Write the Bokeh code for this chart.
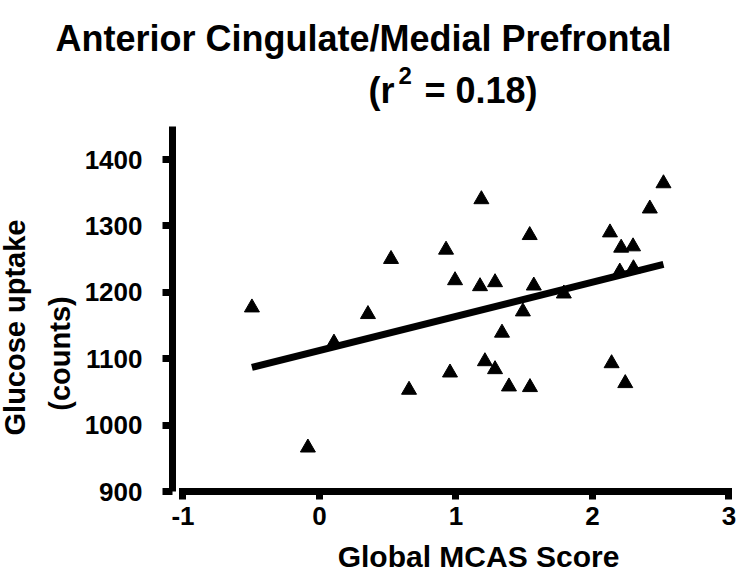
from bokeh.plotting import figure
from bokeh.models import Label, Range1d, FixedTicker
from bokeh.embed import file_html
from bokeh.resources import INLINE
import math

# ---- data ----
mcas_score = [-0.495, -0.085, 0.106, 0.355, 0.524, 0.656, 0.927, 0.956, 0.993, 1.176,
              1.186, 1.212, 1.286, 1.286, 1.337, 1.388, 1.490, 1.540, 1.542, 1.570,
              1.790, 2.128, 2.140, 2.200, 2.210, 2.240, 2.297, 2.300, 2.420, 2.520]
glucose_uptake = [1177, 966, 1124, 1167, 1250, 1053, 1264, 1079, 1218, 1209,
                  1340, 1096, 1215, 1084, 1139, 1058, 1171, 1286, 1057, 1210,
                  1198, 1290, 1093, 1231, 1267, 1063, 1269, 1236, 1326, 1364]
fit_x = [-0.495, 2.52]
fit_y = [1087, 1242]
x_ticks = [-1, 0, 1, 2, 3]
x_tick_labels = {-1: "-1", 0: "0", 1: "1", 2: "2", 3: "3"}
y_ticks = [900, 1000, 1100, 1200, 1300, 1400]

title_text = "Anterior Cingulate/Medial Prefrontal"
r2_open = "(r"
r2_sup = "2"
r2_rest = "= 0.18)"
x_label = "Global MCAS Score"
y_label_1 = "Glucose uptake"
y_label_2 = "(counts)"

FONT = "Liberation Sans"
W, H = 741, 574

# the plotting frame covers the whole canvas; axes are drawn at fixed places
p = figure(width=W, height=H, output_backend="svg", toolbar_location=None,
           title=None,
           x_range=Range1d(-2.337, 3.0916), y_range=Range1d(775.0, 1639.5),
           min_border=0, min_border_left=0, min_border_right=0,
           min_border_top=0, min_border_bottom=0,
           background_fill_color="white", border_fill_color="white")
p.outline_line_color = None
p.grid.visible = False

for ax in (p.xaxis[0], p.yaxis[0]):
    ax.axis_line_width = 7
    ax.axis_line_color = "black"
    ax.major_tick_line_width = 7
    ax.major_tick_line_color = "black"
    ax.minor_tick_line_color = None
    ax.major_tick_in = 0
    ax.major_label_text_font = FONT
    ax.major_label_text_font_style = "bold"
    ax.major_label_text_font_size = "26px"
    ax.major_label_text_color = "black"

xa = p.xaxis[0]
xa.fixed_location = 900.7
xa.ticker = FixedTicker(ticks=x_ticks)
xa.major_label_overrides = x_tick_labels
xa.bounds = (-1, 3)
xa.axis_line_cap = "square"
xa.major_tick_out = 8
xa.major_label_standoff = 8

ya = p.yaxis[0]
ya.fixed_location = -1.077
ya.ticker = FixedTicker(ticks=y_ticks)
ya.bounds = (900, 1450)
ya.axis_line_cap = "butt"
ya.major_tick_out = 10
ya.major_label_standoff = 20

p.line(fit_x, fit_y, line_width=7, line_color="black")
p.scatter(mcas_score, glucose_uptake, marker="triangle", size=15,
          fill_color="black", line_color="black")

def lab(x, y, text, size, align="left", angle=0.0):
    # screen units measured from the canvas left / bottom
    p.add_layout(Label(x=x, y=y, x_units="screen", y_units="screen", text=text,
                       text_font=FONT, text_font_style="bold", text_font_size=size,
                       text_color="black", text_align=align,
                       text_baseline="alphabetic", angle=angle))

lab(363, H - 38, title_text, "36px", "center")
lab(368, H - 90, r2_open, "36px", "left")
lab(398, H - 75, r2_sup, "24px", "left")
lab(537, H - 90, r2_rest, "36px", "right")
lab(478, H - 556, x_label, "30px", "center")
lab(14, H - 327, y_label_1, "29px", "center", math.pi / 2)
lab(59, H - 353, y_label_2, "29px", "center", math.pi / 2)

open("out.html", "w").write(file_html(p, INLINE))
